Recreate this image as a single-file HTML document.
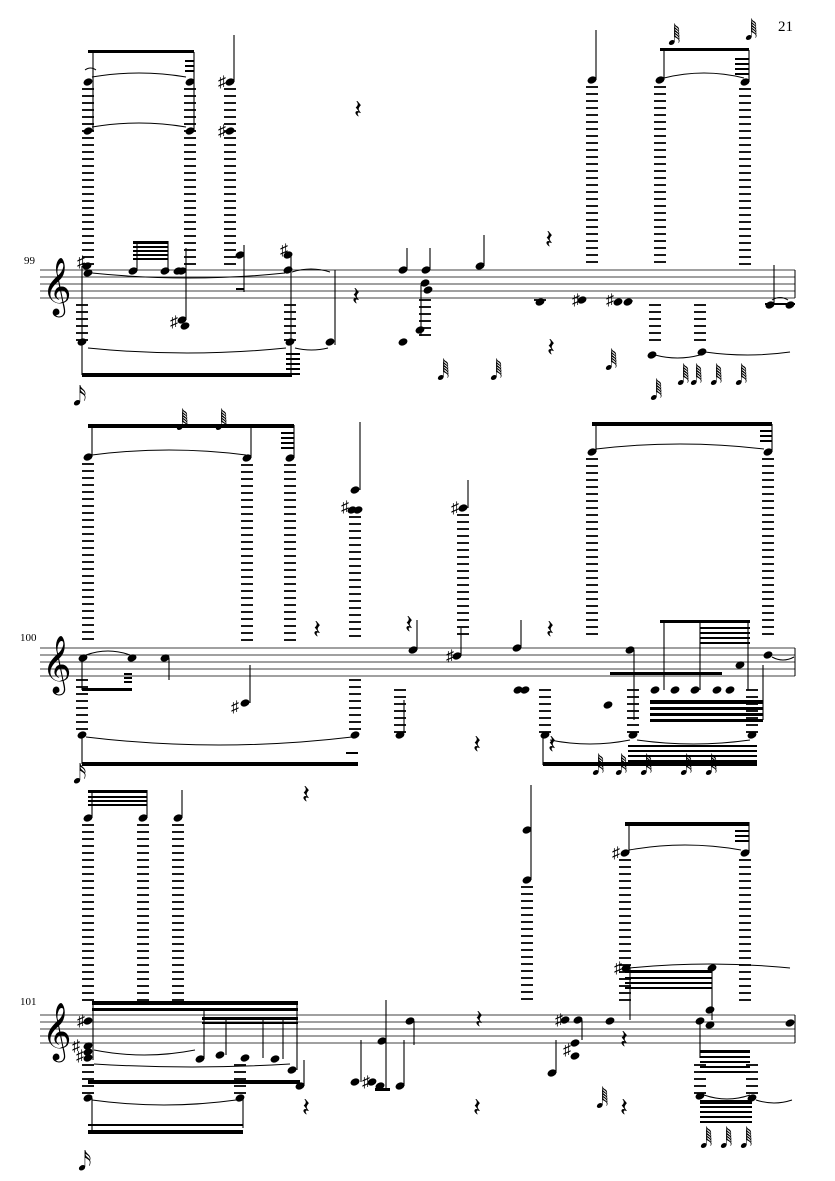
<!DOCTYPE html>
<html><head><meta charset="utf-8"><style>
html,body{margin:0;padding:0;background:#fff;width:835px;height:1181px;overflow:hidden}
svg{display:block}
text{font-family:"Liberation Serif","DejaVu Serif",serif;fill:#000}
</style></head><body>
<svg id="s" width="835" height="1181" viewBox="0 0 835 1181" xmlns="http://www.w3.org/2000/svg">
<text x="778" y="31" font-size="15">21</text>
<text x="24" y="264" font-size="11">99</text>
<text x="20" y="641" font-size="11">100</text>
<text x="20" y="1005" font-size="11">101</text>
</svg>
<script>
var S=document.getElementById('s'),h='';
function staff(y,x1,x2){for(var i=0;i<5;i++)h+='<line x1="'+x1+'" y1="'+(y+i*7)+'" x2="'+x2+'" y2="'+(y+i*7)+'" stroke="#000" stroke-width="0.8"/>';
h+='<line x1="'+x2+'" y1="'+y+'" x2="'+x2+'" y2="'+(y+28)+'" stroke="#000" stroke-width="1"/>';
h+='<text x="'+(x1+2)+'" y="'+(y+33)+'" font-size="50">𝄞</text>';}
function led(x,a,b){for(var y=a;y<=b;y+=7)h+='<line x1="'+(x-6)+'" y1="'+y+'" x2="'+(x+6)+'" y2="'+y+'" stroke="#000" stroke-width="1.8"/>';}
function n(x,y){h+='<ellipse cx="'+x+'" cy="'+y+'" rx="4.6" ry="3.4" transform="rotate(-22 '+x+' '+y+')"/>';}
function st(x,a,b){h+='<line x1="'+x+'" y1="'+a+'" x2="'+x+'" y2="'+b+'" stroke="#000" stroke-width="1.1"/>';}
function bm(x1,y1,x2,y2,t){h+='<polygon points="'+x1+','+y1+' '+x2+','+y2+' '+x2+','+(y2+(t||4))+' '+x1+','+(y1+(t||4))+'"/>';}
function tie(x1,x2,y,d){h+='<path d="M'+x1+' '+y+' Q'+((x1+x2)/2)+' '+(y+d)+' '+x2+' '+y+'" fill="none" stroke="#000" stroke-width="1"/>';}
function sh(x,y){h+='<text x="'+x+'" y="'+(y+5)+'" font-size="16">♯</text>';}
function r(x,y){h+='<text x="'+x+'" y="'+(y+8)+'" font-size="26">𝄽</text>';}
function fl(x,y){h+='<text x="'+x+'" y="'+y+'" font-size="24">𝅘𝅥𝅱</text>';}
function col(x,ny,a,b){n(x,ny);led(x,a,b);}
/* system 1 */
staff(270,40,795);
col(88,82,89,264);col(190,82,89,264);n(88,131);n(190,131);col(230,82,89,264);n(230,131);sh(218,82);sh(218,131);
st(93,52,131);st(194,52,131);bm(88,50,194,50,3);bm(185,60,194,60,2);bm(185,65,194,65,2);bm(185,70,194,70,2);st(234,35,82);
tie(92,186,77,-8);tie(92,186,127,-8);tie(85,96,70,-4);
r(354,110);
col(592,80,87,264);st(596,30,80);
col(660,80,87,264);col(745,82,89,264);st(664,50,80);st(749,50,82);bm(660,48,749,48,3);for(var i=0;i<4;i++)bm(735,58+i*5,749,58+i*5,2);
fl(668,45);fl(745,40);tie(664,744,78,-10);
/* staff notes sys1 */
n(87,266);n(88,273);sh(77,262);st(82,266,375);bm(82,373,292,373,4);n(133,271);n(165,271);n(178,271);n(182,271);
bm(133,241,168,241,3);for(i=0;i<4;i++)bm(133,246+i*4,168,246+i*4,2);st(137,241,271);st(168,241,271);st(186,248,320);
n(182,320);n(185,326);sh(170,322);tie(92,285,273,10);
n(240,255);st(244,245,292);bm(236,288,244,288,2);n(288,255);sh(280,250);n(288,270);st(291,253,375);tie(292,330,272,-6);
n(82,342);led(82,305,340);n(290,342);led(290,305,340);n(330,342);tie(88,286,348,10);tie(295,328,348,4);
for(i=0;i<5;i++)bm(286,353+i*5,300,353+i*5,2);st(335,270,345);
h+='<text x="73" y="405" font-size="26">𝅘𝅥𝅯</text>';
n(403,270);st(407,270,248);n(426,270);st(430,270,248);n(425,283);n(428,290);st(421,285,336);n(480,266);st(484,266,235);
r(352,297);n(403,342);n(420,330);led(425,300,335);fl(437,380);fl(490,380);n(540,302);led(540,300,300);n(582,300);sh(572,300);
n(618,302);n(628,302);sh(606,300);st(632,302,300);r(545,240);r(547,348);fl(605,370);
n(652,355);n(702,352);tie(655,700,355,6);tie(705,790,352,6);led(655,305,345);led(700,305,345);
fl(650,400);fl(677,385);fl(690,385);fl(710,385);fl(735,385);
n(770,305);n(790,305);tie(772,788,300,-5);bm(765,303,795,303,2);st(774,305,265);
/* system 2 */
staff(648,40,795);
col(88,457,464,640);col(247,458,465,640);col(290,458,465,640);st(92,425,457);st(251,425,458);st(294,425,458);bm(88,424,294,424,4);
for(i=0;i<4;i++)bm(281,432+i*5,294,432+i*5,2);tie(92,246,455,-10);fl(176,430);fl(215,430);
n(352,510);n(358,510);n(355,490);sh(341,507);led(355,517,640);st(360,422,490);
n(463,508);sh(451,508);led(463,515,640);st(468,480,508);
col(592,452,459,640);col(768,452,459,640);st(596,424,452);st(772,424,452);bm(592,422,772,422,4);for(i=0;i<3;i++)bm(760,430+i*5,772,430+i*5,2);tie(596,764,449,-10);
n(83,658);st(82,658,690);bm(82,688,132,688,3);for(i=0;i<3;i++)bm(124,673+i*4,132,673+i*4,2);n(132,658);tie(86,130,655,-8);
n(165,658);st(169,658,680);n(245,703);sh(231,707);st(250,665,703);
r(313,630);n(413,650);st(417,650,620);r(405,625);n(457,656);sh(446,656);st(461,656,628);
n(517,648);st(521,648,620);n(518,690);n(525,690);r(546,630);
n(608,705);n(630,650);n(655,690);n(675,690);n(695,690);n(717,690);n(730,690);n(740,665);
bm(610,672,722,672,3);bm(660,620,750,620,3);for(i=0;i<4;i++)bm(700,627+i*5,750,627+i*5,2);
bm(650,700,763,700,4);bm(650,707,763,707,3);bm(650,713,763,713,3);bm(650,719,763,719,3);
st(634,650,720);st(664,620,690);st(700,620,690);st(748,620,690);st(763,665,720);n(768,655);tie(772,794,657,6);
n(82,735);led(82,680,733);tie(86,352,737,16);st(82,735,764);bm(82,762,358,762,4);bm(346,752,358,752,2);n(355,735);n(400,735);led(355,680,733);led(400,690,733);st(404,733,700);
n(545,735);n(633,735);n(752,735);led(545,690,733);led(633,690,733);led(752,690,733);st(543,735,765);bm(543,762,757,762,4);
for(i=0;i<4;i++)bm(628,745+i*5,757,745+i*5,2);r(548,745);r(473,745);
fl(592,775);fl(615,775);fl(640,775);fl(680,775);fl(705,775);tie(550,630,740,8);tie(637,750,740,8);
h+='<text x="73" y="783" font-size="26">𝅘𝅥𝅯</text>';
/* system 3 */
staff(1015,40,795);
col(88,818,825,1003);col(143,818,825,1003);col(178,818,825,1003);st(92,790,818);st(147,790,818);st(182,790,818);
bm(88,790,147,790,3);for(i=0;i<3;i++)bm(88,796+i*4,147,796+i*4,2);r(302,795);
n(527,830);n(527,880);led(527,887,1003);st(531,785,880);
col(625,853,860,1003);col(745,853,860,1003);sh(612,853);st(629,822,853);st(749,822,853);bm(625,822,749,822,4);for(i=0;i<3;i++)bm(735,830+i*5,749,830+i*5,2);tie(629,741,850,-10);
bm(92,1001,298,1001,4);bm(92,1008,298,1008,3);bm(202,1017,298,1017,3);bm(202,1022,298,1022,2);
n(88,1021);sh(77,1021);n(88,1046);n(88,1052);n(88,1058);sh(72,1046);sh(76,1056);st(93,1003,1060);
n(200,1059);n(220,1055);n(245,1058);n(275,1059);n(292,1070);st(204,1008,1059);st(226,1017,1055);st(263,1017,1058);st(283,1017,1059);st(297,1003,1070);
tie(94,195,1050,10);tie(94,290,1064,6);bm(88,1080,300,1080,4);
n(240,1098);n(88,1098);led(88,1065,1096);led(240,1065,1096);tie(92,236,1100,10);bm(88,1130,243,1130,4);bm(88,1124,243,1124,2);st(92,1098,1130);st(243,1098,1128);
h+='<text x="78" y="1170" font-size="26">𝅘𝅥𝅯</text>';
n(300,1086);st(304,1086,1060);r(302,1108);n(355,1082);n(372,1082);sh(362,1082);st(361,1082,1040);
n(382,1041);n(410,1021);n(380,1086);st(386,1000,1090);st(414,1021,1045);bm(375,1088,390,1088,3);n(400,1086);st(404,1086,1040);
r(475,1020);r(473,1108);n(552,1073);st(556,1073,1040);n(565,1020);sh(555,1020);n(578,1020);n(575,1043);n(575,1056);sh(563,1050);st(582,1020,1040);
fl(596,1108);r(620,1108);n(610,1021);n(626,968);sh(614,968);bm(625,970,712,970,3);for(i=0;i<3;i++)bm(625,977+i*5,712,977+i*5,2);st(630,968,1020);st(712,970,1020);
n(700,1021);n(712,968);n(710,1010);n(710,1025);r(620,1040);n(790,1023);tie(630,790,968,-8);
bm(700,1050,750,1050,3);for(i=0;i<4;i++)bm(700,1056+i*5,750,1056+i*5,2);st(700,1021,1058);
n(700,1096);n(752,1098);led(700,1065,1094);led(752,1065,1094);bm(700,1100,752,1100,4);for(i=0;i<4;i++)bm(700,1106+i*5,752,1106+i*5,2);fl(700,1148);fl(720,1148);fl(740,1148);
tie(704,750,1095,8);tie(756,792,1100,6);
S.insertAdjacentHTML('beforeend',h);
</script>
</body></html>
